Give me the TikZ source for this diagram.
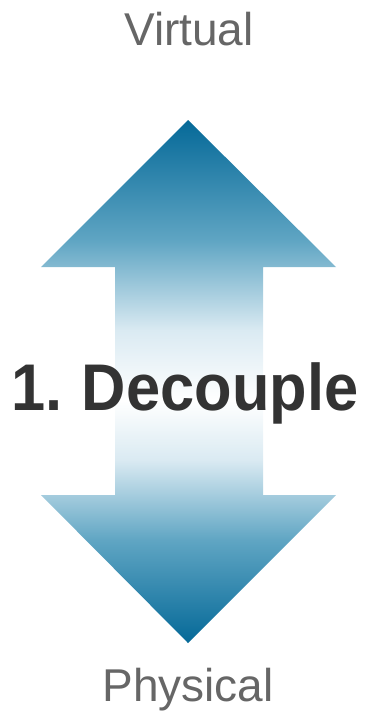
\documentclass[tikz,border=0pt]{standalone}
\usepackage{fontspec}
\setmainfont{Liberation Sans}
\usepackage{tikz}
\definecolor{arrdark}{RGB}{5,105,152}
\definecolor{arrmid}{RGB}{95,165,195}
\definecolor{arrlight}{RGB}{218,234,242}
\definecolor{lblgray}{RGB}{102,102,102}
\definecolor{ttlgray}{RGB}{51,51,51}
% vertical fade: dark tips, white centre
\pgfdeclareverticalshading{decshade}{100bp}{color(0bp)=(arrdark); color(25bp)=(arrdark); color(34.8bp)=(arrmid); color(42.5bp)=(arrlight); color(48.2bp)=(white); color(54.9bp)=(arrlight); color(63.5bp)=(arrmid); color(75bp)=(arrdark); color(100bp)=(arrdark)}

\begin{document}
\begin{tikzpicture}[
  x=1pt, y=-1pt,
  lbl/.style={font=\fontsize{46}{50}\selectfont, text=lblgray, inner sep=0pt, anchor=base},
  ttl/.style={font=\fontsize{66}{70}\selectfont\bfseries, text=ttlgray, inner sep=0pt, anchor=base},
  dblarr/.style={shading=decshade, draw=none}
]
\useasboundingbox (0,0) rectangle (373,712);

% Double arrow
\shade[dblarr] (188,120) -- (336,267) -- (263,267) -- (263,495) -- (336,495)
  -- (188,643) -- (41,495) -- (115,495) -- (115,267) -- (41,267) -- cycle;

% Labels
\node[lbl] (virtual) at (189,45) {Virtual};
\node[lbl] (physical) at (188,701) {Physical};
\node[ttl] (decouple) at (185,410) {\scalebox{0.93}[1]{1.\hspace{-0.06em} Decouple}};
\end{tikzpicture}
\end{document}
